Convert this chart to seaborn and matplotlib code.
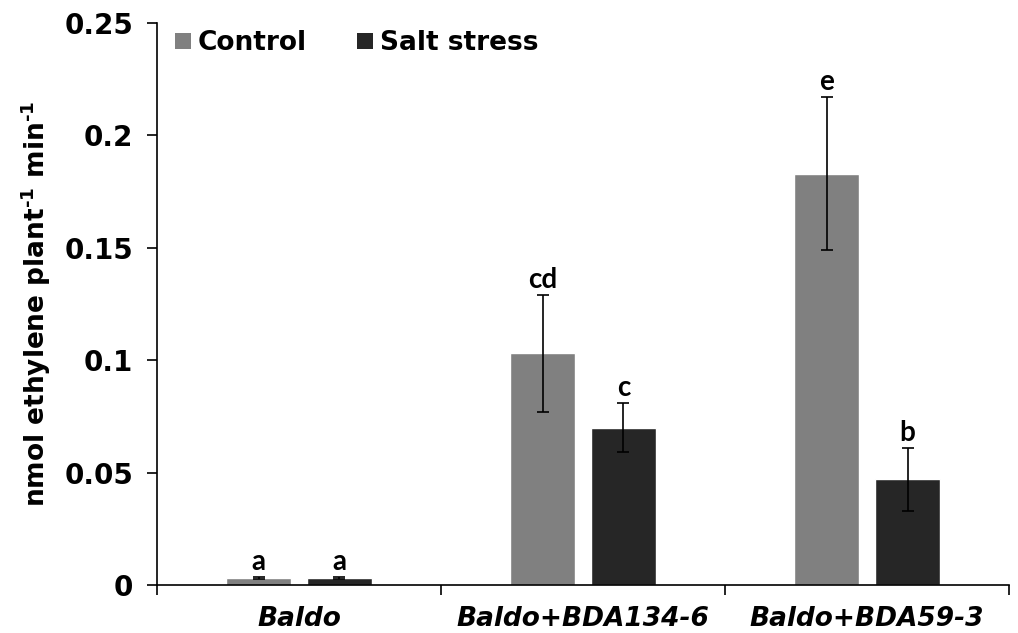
import numpy as np
import pandas as pd
import matplotlib
matplotlib.use("Agg")
import matplotlib.pyplot as plt
from matplotlib.patches import Patch
import seaborn as sns


GROUPS = ["Baldo", "Baldo+BDA134-6", "Baldo+BDA59-3"]
TREATMENTS = ["Control", "Salt stress"]

CONTROL_MEAN = [0.003, 0.103, 0.183]
CONTROL_ERR = [0.0005, 0.026, 0.034]
SALT_MEAN = [0.003, 0.070, 0.047]
SALT_ERR = [0.0005, 0.011, 0.014]

CONTROL_LETTERS = ["a", "cd", "e"]
SALT_LETTERS = ["a", "c", "b"]

COLORS = {"Control": "#808080", "Salt stress": "#262626"}


def main() -> None:
    sns.set_style("ticks")
    plt.rcParams["font.family"] = ["DejaVu Sans"]
    plt.rcParams["text.color"] = "black"
    plt.rcParams["axes.labelcolor"] = "black"
    plt.rcParams["xtick.color"] = "black"
    plt.rcParams["ytick.color"] = "black"
    plt.rcParams["mathtext.default"] = "bf"

    df = pd.DataFrame({
        "group": GROUPS * 2,
        "treatment": ["Control"] * 3 + ["Salt stress"] * 3,
        "value": CONTROL_MEAN + SALT_MEAN,
        "err": CONTROL_ERR + SALT_ERR,
        "letter": CONTROL_LETTERS + SALT_LETTERS,
    })

    fig = plt.figure(figsize=(10.18, 6.33), dpi=100)
    ax = fig.add_axes([0.1542, 0.0758, 0.8370, 0.8879])

    sns.barplot(df, x="group", y="value", hue="treatment", order=GROUPS,
                hue_order=TREATMENTS, palette=COLORS, errorbar=None,
                width=0.57, gap=0.2, legend=False, ax=ax)

    # error bars + letters, positioned from the drawn bars
    for container, treat in zip(ax.containers, TREATMENTS):
        sub = df[df["treatment"] == treat].set_index("group").loc[GROUPS]
        for bar, (_, row) in zip(container.patches, sub.iterrows()):
            xc = bar.get_x() + bar.get_width() / 2
            ax.errorbar(xc, row["value"], yerr=row["err"], fmt="none",
                        ecolor="black", elinewidth=1.2, capsize=4, capthick=1.2)
            ax.text(xc, row["value"] + row["err"] + 0.001, row["letter"],
                    ha="center", va="bottom", fontsize=20, fontweight="bold",
                    family=["Lato", "DejaVu Sans"])

    ax.set_xlim(-0.5, 2.5)
    ax.set_ylim(0, 0.25)
    ax.set_yticks([0, 0.05, 0.1, 0.15, 0.2, 0.25])
    ax.set_yticklabels(["0", "0.05", "0.1", "0.15", "0.2", "0.25"])

    ax.set_xticks(range(len(GROUPS)))
    ax.set_xticklabels(GROUPS, fontstyle="italic")
    ax.set_xticks([-0.5, 0.5, 1.5, 2.5], minor=True)
    ax.tick_params(axis="x", which="major", length=0, pad=15)
    ax.tick_params(axis="x", which="minor", length=7, width=1.2, direction="out")
    ax.tick_params(axis="y", length=7, width=1.2, direction="out", pad=10)
    for lab in ax.get_xticklabels():
        lab.set_fontweight("bold")
        lab.set_fontsize(19)
    for lab in ax.get_yticklabels():
        lab.set_fontweight("bold")
        lab.set_fontsize(20)

    ax.set_xlabel("")
    ax.set_ylabel("nmol ethylene plant$^{\u20101}$ min$^{\u20101}$",
                  fontsize=19, fontweight="bold", labelpad=8)

    sns.despine(ax=ax)
    for side in ["left", "bottom"]:
        ax.spines[side].set_linewidth(1.2)
        ax.spines[side].set_color("black")

    handles = [Patch(facecolor=COLORS[t], edgecolor="none", label=t) for t in TREATMENTS]
    ax.legend(handles=handles, loc="upper left", bbox_to_anchor=(0.0, 1.02),
              ncol=2, frameon=False, handlelength=0.6, handleheight=0.6,
              handletextpad=0.25, columnspacing=1.9, borderaxespad=0.3,
              prop={"size": 19, "weight": "bold"})

    fig.savefig("out.png", dpi=100)
    plt.close(fig)


if __name__ == "__main__":
    main()
